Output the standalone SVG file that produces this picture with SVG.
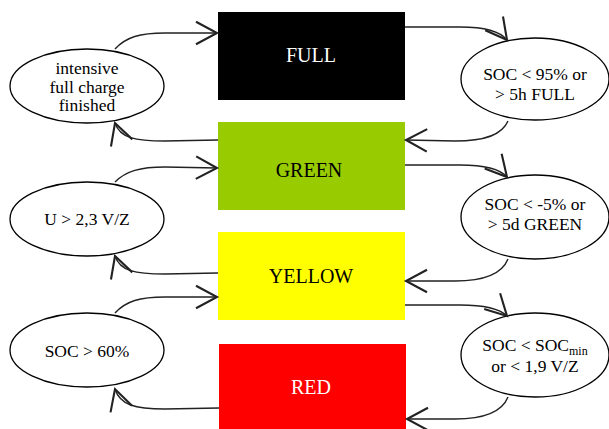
<svg xmlns="http://www.w3.org/2000/svg" width="609" height="429" viewBox="0 0 609 429">
<style>
.el{fill:#fff;stroke:#000;stroke-width:1.3}
.t{font-size:17.5px;text-anchor:middle;fill:#000}
.bt{font-size:20px;text-anchor:middle}
.c{fill:none;stroke:#222;stroke-width:1.4;marker-end:url(#ah)}
</style>
<defs>
<marker id="ah" markerUnits="userSpaceOnUse" markerWidth="30" markerHeight="30" viewBox="-16 -10 18 20" refX="0" refY="0" orient="auto">
<path d="M-14,-7.5 L0,0 L-14,7.5" fill="none" stroke="#222" stroke-width="1.4"/>
</marker>
</defs>
<rect width="609" height="429" fill="#fff"/>
<g font-family="'Liberation Serif', 'DejaVu Serif', serif">
<g id="full"><rect x="218" y="12" width="187" height="88" fill="#000"/><text class="bt" x="311" y="62" fill="#fff">FULL</text></g>
<g id="green"><rect x="218" y="122" width="187" height="88" fill="#99cc00"/><text class="bt" x="309" y="177" fill="#000">GREEN</text></g>
<g id="yellow"><rect x="218" y="232" width="187" height="88" fill="#ffff00"/><text class="bt" x="311" y="283" fill="#000">YELLOW</text></g>
<g id="red"><rect x="219" y="344" width="187" height="85" fill="#ff0000"/><text class="bt" x="311" y="394" fill="#fff">RED</text></g>
<g id="e-intensive"><ellipse class="el" cx="87" cy="86" rx="77" ry="37"/><text class="t" x="87" y="74">intensive</text><text class="t" x="87" y="92.5">full charge</text><text class="t" x="87" y="111">finished</text></g>
<g id="e-u23"><ellipse class="el" cx="87" cy="219" rx="77" ry="37"/><text class="t" x="87" y="225">U &gt; 2,3 V/Z</text></g>
<g id="e-soc60"><ellipse class="el" cx="87" cy="350" rx="77" ry="37"/><text class="t" x="87" y="357">SOC &gt; 60%</text></g>
<g id="e-soc95"><ellipse class="el" cx="535" cy="79" rx="74" ry="41"/><text class="t" x="535" y="80">SOC &lt; 95% or</text><text class="t" x="535" y="100">&gt; 5h FULL</text></g>
<g id="e-soc5"><ellipse class="el" cx="535" cy="217" rx="74" ry="42"/><text class="t" x="535" y="210">SOC &lt; -5% or</text><text class="t" x="535" y="230">&gt; 5d GREEN</text></g>
<g id="e-socmin"><ellipse class="el" cx="535" cy="355" rx="74" ry="42"/><text class="t" x="535" y="351">SOC &lt; SOC<tspan font-size="12" dy="4">min</tspan></text><text class="t" x="535" y="372">or &lt; 1,9 V/Z</text></g>
</g>
<g id="connectors">
<path class="c" d="M115,49 C126,37 140,33 165,33 L217,33"/>
<path class="c" d="M218,140 L165,141 C135,141 120,138 115,123"/>
<path class="c" d="M115,182 C126,171 140,167 165,167 L217,168"/>
<path class="c" d="M218,273 L165,274 C135,274 120,271 115,256"/>
<path class="c" d="M115,313 C126,301 140,297 165,297 L217,297"/>
<path class="c" d="M219,408 L165,409 C135,409 120,405 115,389"/>
<path class="c" d="M405,27 L460,27 C485,27 500,31 507,40"/>
<path class="c" d="M508,121 C502,135 485,141 455,141 L406,140"/>
<path class="c" d="M405,165 L460,165 C485,165 500,169 507,177"/>
<path class="c" d="M508,259 C502,274 485,281 455,281 L406,281"/>
<path class="c" d="M405,305 L460,305 C485,305 500,309 507,316"/>
<path class="c" d="M508,397 C502,412 485,419 455,419 L407,419"/>
</g>
</svg>
